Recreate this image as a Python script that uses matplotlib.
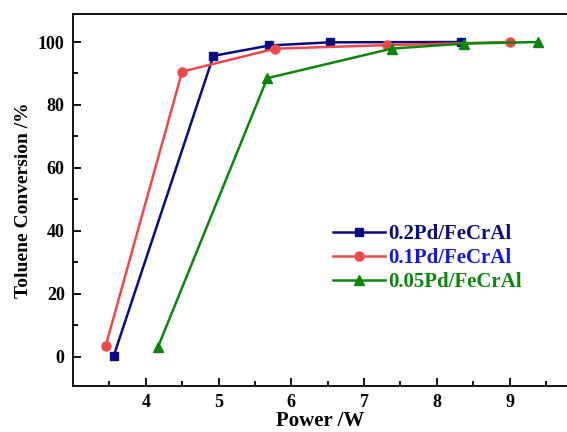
import matplotlib
matplotlib.use("Agg")
import matplotlib.pyplot as plt
from matplotlib.ticker import MultipleLocator, FixedLocator

plt.rcParams['font.family'] = ['Liberation Serif', 'DejaVu Serif']
plt.rcParams['font.weight'] = 'bold'

labels = ["0.2Pd/FeCrAl", "0.1Pd/FeCrAl", "0.05Pd/FeCrAl"]
x_02 = [3.56, 4.93, 5.70, 6.53, 8.33]
y_02 = [0.3, 95.6, 98.9, 99.9, 100.0]
x_01 = [3.45, 4.50, 5.78, 7.31, 9.01]
y_01 = [3.5, 90.6, 97.9, 99.0, 100.0]
x_005 = [4.17, 5.67, 7.38, 8.37, 9.39]
y_005 = [3.2, 88.5, 97.9, 99.5, 100.0]
x_ticks = [4, 5, 6, 7, 8, 9]

line_colors = ["#0b0b80", "#f04848", "#0a870a"]
text_colors = ["#0b0b80", "#1515e0", "#0a870a"]
markers = ["s", "o", "^"]
msizes = [5.5, 6.5, 7]

fig = plt.figure(figsize=(5.67, 4.32), dpi=100)
ax = fig.add_axes([73/567, 46/432, 494/567, 372/432])

series = [(x_02, y_02), (x_01, y_01), (x_005, y_005)]
handles = []
for (xs, ys), c, m, ms, lab in zip(series, line_colors, markers, msizes, labels):
    h, = ax.plot(xs, ys, color=c, marker=m, markersize=ms,
                 linewidth=1.8, label=lab)
    handles.append(h)

ax.set_xlim(3.0, 9.79)
ax.set_ylim(-9.3, 108.9)
ax.xaxis.set_major_locator(FixedLocator(x_ticks))
ax.xaxis.set_minor_locator(FixedLocator([3.5, 4.5, 5.5, 6.5, 7.5, 8.5, 9.5]))
ax.yaxis.set_major_locator(MultipleLocator(20))
ax.yaxis.set_minor_locator(MultipleLocator(10))
ax.tick_params(which='both', direction='in', width=1.3, labelsize=13)
ax.tick_params(which='major', length=6)
ax.tick_params(which='minor', length=3.5)
ax.tick_params(axis='x', which='major', pad=6)
ax.tick_params(axis='y', which='major', pad=6)
ax.tick_params(top=False, right=False, which='both')
for s in ax.spines.values():
    s.set_linewidth(1.3)
ax.spines['right'].set_visible(False)
for lab in ax.get_xticklabels() + ax.get_yticklabels():
    lab.set_fontweight('bold')

ax.set_xlabel("Power /W", fontsize=15, fontweight='bold', labelpad=0)
ax.set_ylabel("Toluene Conversion /%", fontsize=14, fontweight='bold', labelpad=4)

leg = ax.legend(handles=handles, loc='upper left', bbox_to_anchor=(0.497, 0.475),
                frameon=False, handlelength=2.5, handletextpad=0.15,
                labelspacing=0.2, borderpad=0.2,
                prop={'weight': 'bold', 'size': 15})
for t, c in zip(leg.get_texts(), text_colors):
    t.set_color(c)

fig.savefig("out.png", dpi=100)
